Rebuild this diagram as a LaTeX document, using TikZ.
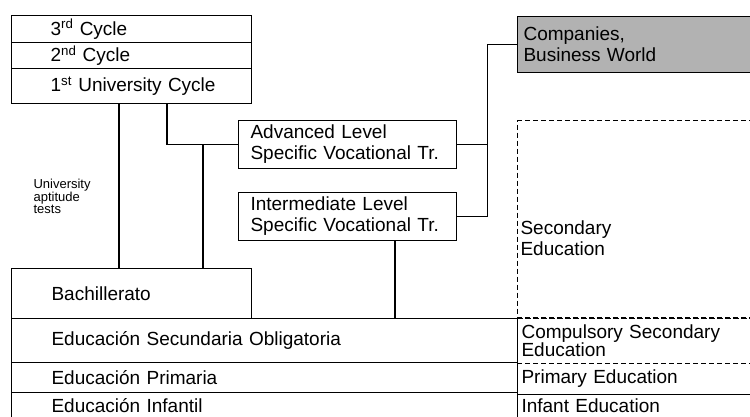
\documentclass[tikz,border=0pt]{standalone}
\usepackage{fontspec}
\setmainfont{Liberation Sans}
\usetikzlibrary{positioning}

\begin{document}
\begin{tikzpicture}[x=1pt, y=-1pt, line width=1.1pt,
    every node/.style={inner sep=0pt, font=\fontsize{19}{21}\selectfont},
    cell/.style n args={3}{draw, anchor=north west, minimum height=#2, text width=#1,
        align=left, execute at begin node={\leftskip=#3pt}},
    dashline/.style={dash pattern=on 5pt off 3pt}]
    \useasboundingbox (0,0) rectangle (750,416);

    % university cycles
    \node[cell={240pt}{27pt}{39}] (c3) at (11,15) {3\textsuperscript{rd} Cycle};
    \node[cell={240pt}{26pt}{39}] (c2) at (11,42) {2\textsuperscript{nd} Cycle};
    \node[cell={240pt}{35pt}{39}] (c1) at (11,68) {1\textsuperscript{st} University Cycle};

    % vocational training
    \node[cell={218pt}{48pt}{12}] (adv) at (238,120) {Advanced Level\\Specific Vocational Tr.};
    \node[cell={218pt}{48pt}{12}] (inter) at (238,192) {Intermediate Level\\Specific Vocational Tr.};

    % companies
    \node[cell={235pt}{56pt}{6}, fill=black!30] (comp) at (517,16) {Companies,\\Business World};

    % secondary education (dashed)
    \node[cell={235pt}{198pt}{3}, dashline] (sec) at (517,120) {};
    \node[right=3pt of sec.west, yshift=-19pt, align=left] (sectxt) {Secondary\\Education};

    % aptitude tests
    \node[anchor=west, align=left, font=\fontsize{13}{11}\selectfont] (uat) at (33,196) {University\\aptitude\\tests};

    % lower levels
    \node[cell={240pt}{50pt}{40}] (bach) at (11,268) {Bachillerato};
    \node[cell={506pt}{44pt}{40}] (eso) at (11,318) {Educación Secundaria Obligatoria};
    \node[cell={506pt}{30pt}{40}] (prim) at (11,362) {Educación Primaria};
    \node[cell={506pt}{27pt}{40}] (inf) at (11,392) {Educación Infantil};

    % english names
    \node[cell={235pt}{44pt}{4}, draw=none, font=\fontsize{19}{18}\selectfont] (cse) at (517,318) {Compulsory Secondary\\Education};
    \node[cell={235pt}{30pt}{4}, draw=none] (pe) at (517,363) {Primary Education};
    \node[cell={235pt}{27pt}{4}, draw=none] (ie) at (517,392) {Infant Education};
    \draw[dashline] (cse.north west) -- (cse.north east) (cse.south west) -- (cse.south east);
    \draw (pe.south west) -- (pe.south east);

    % connectors
    \draw ([xshift=108pt]c1.south west) -- ([xshift=108pt]bach.north west);
    \draw ([xshift=156pt]c1.south west) |- (adv.west);
    \draw ([xshift=192pt]bach.north west) |- (adv.west);
    \draw ([xshift=157pt]inter.south west) -- ([xshift=157pt]inter.south west |- eso.north);
    \coordinate (jn) at ([xshift=30pt]adv.east);
    \draw (adv.east) -- (jn) |- (comp.west);
    \draw (inter.east) -| (jn);
\end{tikzpicture}
\end{document}
